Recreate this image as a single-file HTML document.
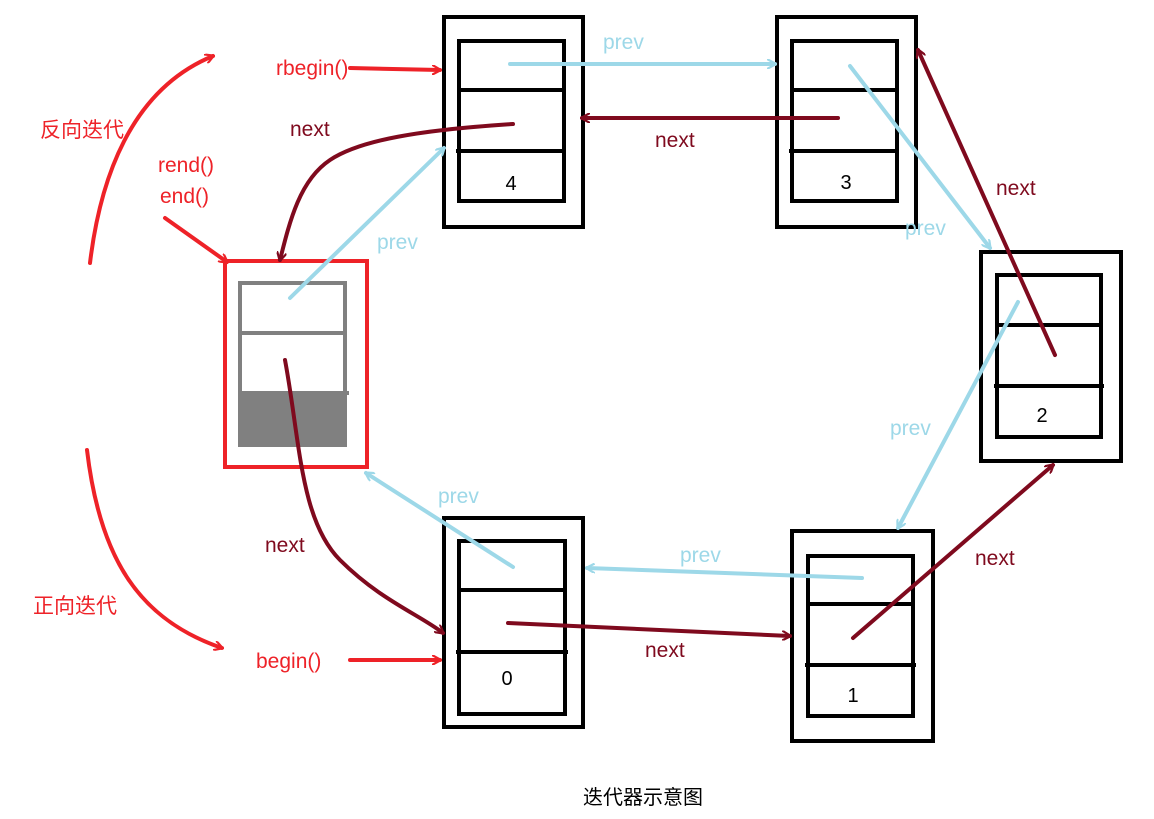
<!DOCTYPE html>
<html><head><meta charset="utf-8"><style>
html,body{margin:0;padding:0;background:#fff;width:1154px;height:819px;overflow:hidden}
text{font-family:"Liberation Sans","Noto Sans CJK SC",sans-serif}
</style></head><body>
<svg width="1154" height="819" viewBox="0 0 1154 819" xmlns="http://www.w3.org/2000/svg">
<defs>
<marker id="ab" markerWidth="10" markerHeight="10" refX="8" refY="5" orient="auto" markerUnits="userSpaceOnUse" viewBox="0 0 10 10"><path d="M0,0 L9,5 L0,10" fill="none" stroke="#9dd8e8" stroke-width="2.2"/></marker>
<marker id="ar" markerWidth="10" markerHeight="10" refX="8" refY="5" orient="auto" markerUnits="userSpaceOnUse" viewBox="0 0 10 10"><path d="M0,0 L9,5 L0,10" fill="none" stroke="#7f0a1e" stroke-width="2.2"/></marker>
<marker id="ae" markerWidth="10" markerHeight="10" refX="8" refY="5" orient="auto" markerUnits="userSpaceOnUse" viewBox="0 0 10 10"><path d="M0,0 L9,5 L0,10" fill="none" stroke="#ee2228" stroke-width="2.2"/></marker>
</defs>
<g fill="none" stroke="#000" stroke-width="4">
<rect x="444" y="17" width="139" height="210"/><rect x="459" y="41" width="105" height="160"/><line x1="459" y1="90" x2="564" y2="90"/><line x1="456" y1="151" x2="566" y2="151"/>
<rect x="777" y="17" width="139" height="210"/><rect x="792" y="41" width="105" height="160"/><line x1="792" y1="90" x2="897" y2="90"/><line x1="789" y1="151" x2="899" y2="151"/>
<rect x="981" y="252" width="140" height="209"/><rect x="997" y="275" width="104" height="162"/><line x1="997" y1="325" x2="1101" y2="325"/><line x1="994" y1="386" x2="1104" y2="386"/>
<rect x="792" y="531" width="141" height="210"/><rect x="808" y="556" width="105" height="160"/><line x1="808" y1="604" x2="913" y2="604"/><line x1="805" y1="665" x2="916" y2="665"/>
<rect x="444" y="518" width="139" height="209"/><rect x="459" y="541" width="106" height="173"/><line x1="459" y1="590" x2="565" y2="590"/><line x1="456" y1="652" x2="568" y2="652"/>
</g>
<rect x="225" y="261" width="142" height="206" fill="none" stroke="#ee2228" stroke-width="4"/>
<rect x="240" y="392" width="107" height="53" fill="#808080"/>
<g fill="none" stroke="#808080" stroke-width="4"><rect x="240" y="283" width="105" height="162"/><line x1="240" y1="333" x2="345" y2="333"/><line x1="238" y1="393" x2="349" y2="393"/></g>
<g font-size="20" fill="#000" text-anchor="middle">
<text x="511" y="190">4</text><text x="846" y="189">3</text><text x="1042" y="422">2</text><text x="853" y="702">1</text><text x="507" y="685">0</text>
</g>
<g fill="none" stroke="#9dd8e8" stroke-width="4" stroke-linecap="round" marker-end="url(#ab)">
<path d="M510,64 L775,64"/><path d="M850,66 L990,248"/><path d="M1018,302 L898,528"/><path d="M862,578 L587,568"/><path d="M513,567 L366,473"/><path d="M290,298 L444,148"/>
</g>
<g fill="none" stroke="#7f0a1e" stroke-width="4" stroke-linecap="round" marker-end="url(#ar)">
<path d="M838,118 L582,118"/><path d="M1055,355 L918,50"/><path d="M853,638 L1053,465"/><path d="M508,623 L790,636"/>
<path d="M285,360 C300,440 300,520 340,560 C380,600 420,615 443,633"/>
<path d="M513,124 C420,130 360,140 330,160 C300,180 290,220 280,260"/>
</g>
<g fill="none" stroke="#ee2228" stroke-width="4" stroke-linecap="round" marker-end="url(#ae)">
<path d="M350,68 L440,70"/><path d="M350,660 L440,660"/><path d="M165,218 L227,262"/>
<path d="M90,263 C100,180 130,90 213,56"/><path d="M87,450 C100,560 140,620 222,648"/>
</g>
<g font-size="21" fill="#9dd8e8">
<text x="603" y="49">prev</text><text x="905" y="235">prev</text><text x="890" y="435">prev</text><text x="680" y="562">prev</text><text x="438" y="503">prev</text><text x="377" y="249">prev</text>
</g>
<g font-size="21" fill="#7f0a1e">
<text x="655" y="147">next</text><text x="996" y="195">next</text><text x="975" y="565">next</text><text x="645" y="657">next</text><text x="265" y="552">next</text><text x="290" y="136">next</text>
</g>
<g font-size="21" fill="#ee2228">
<text x="276" y="75">rbegin()</text><text x="256" y="668">begin()</text><text x="158" y="172">rend()</text><text x="160" y="203">end()</text>
<text x="40" y="137">反向迭代</text><text x="33" y="613">正向迭代</text>
</g>
<text x="583" y="804" font-size="20" fill="#000">迭代器示意图</text>
</svg>
</body></html>
